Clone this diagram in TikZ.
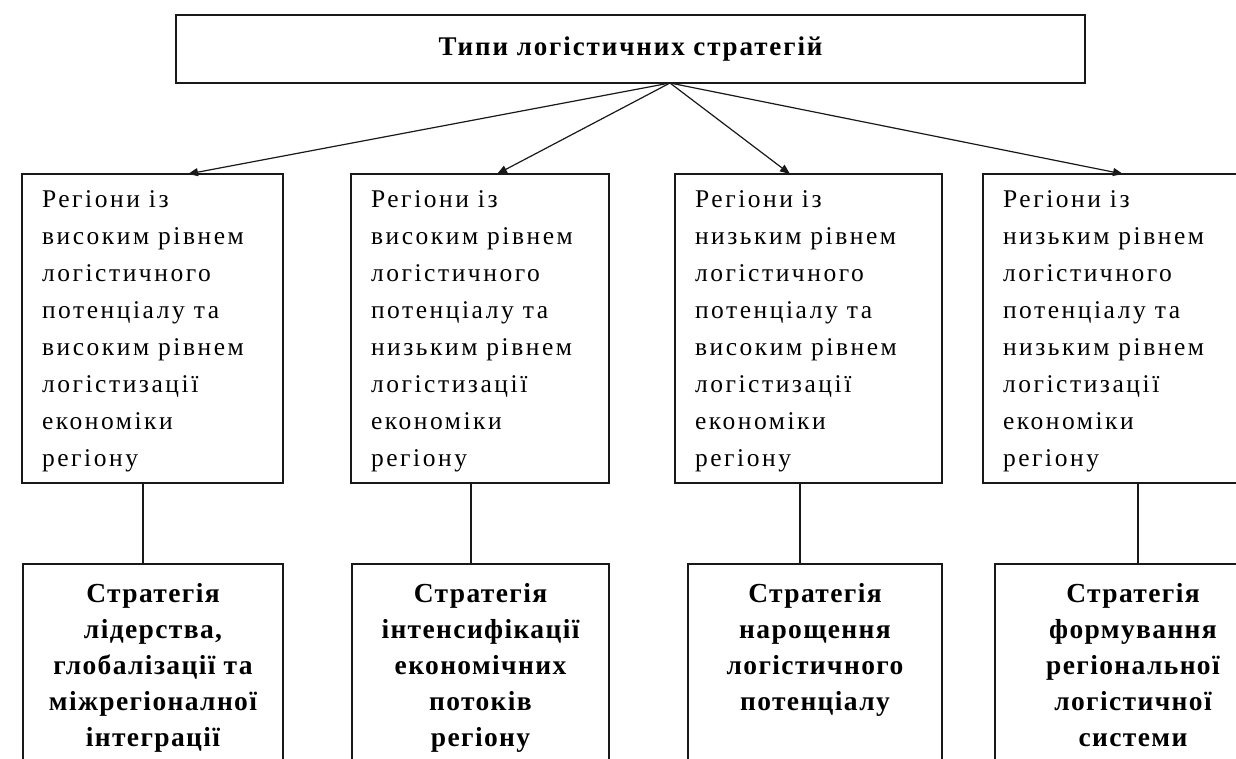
\documentclass[tikz,border=0pt]{standalone}
\usepackage{fontspec}
\setmainfont{Liberation Serif}
\newfontfamily\regfont{Liberation Serif}[LetterSpace=10]
\newfontfamily\stratfont{Liberation Serif}[LetterSpace=5]
\newfontfamily\titlefont{Liberation Serif}[LetterSpace=7]
\usetikzlibrary{arrows.meta}

% text blocks: width, height, lines
\newcommand\regtext[3]{\parbox[t][#2][t]{#1}{\regfont\fontsize{25.5}{37}\selectfont\raggedright\rule{0pt}{26pt}#3}}
\newcommand\strattext[3]{\parbox[t][#2][t]{#1}{\stratfont\bfseries\fontsize{27.5}{36}\selectfont\centering\rule{0pt}{26pt}#3}}

\tikzset{
  frame/.style={draw=black!90, line width=1.4pt, outer sep=0pt},
  titlebox/.style={frame, anchor=north west, inner sep=0pt,
    font=\titlefont\bfseries\fontsize{27}{30}\selectfont},
  regbox/.style={frame, anchor=north west, inner xsep=20pt, inner ysep=7pt},
  stratbox/.style={frame, anchor=north west, inner xsep=10pt, inner ysep=12pt},
  arrow/.style={draw=black!90, line width=1.2pt, -{Triangle[length=10pt,width=8pt]}},
  link/.style={draw=black!90, line width=1.2pt}
}

\begin{document}
\begin{tikzpicture}[x=1pt, y=-1pt]
  \useasboundingbox (0,0) rectangle (1236,758);
  \clip (0,0) rectangle (1236,758);
  \fill[white] (0,0) rectangle (1236,758);

  % heading
  \node[titlebox, minimum width=909pt, minimum height=68pt] (top) at (176,15)
    {\raisebox{-2pt}{Типи логістичних стратегій}};

  % region groups
  \node[regbox] (m1) at (22,174) {\regtext{221pt}{295pt}{Регіони із\\ високим рівнем\\ логістичного\\ потенціалу та\\ високим рівнем\\ логістизації\\ економіки\\ регіону}};
  \node[regbox] (m2) at (351,174) {\regtext{218pt}{295pt}{Регіони із\\ високим рівнем\\ логістичного\\ потенціалу та\\ низьким рівнем\\ логістизації\\ економіки\\ регіону}};
  \node[regbox] (m3) at (675,174) {\regtext{227pt}{295pt}{Регіони із\\ низьким рівнем\\ логістичного\\ потенціалу та\\ високим рівнем\\ логістизації\\ економіки\\ регіону}};
  \node[regbox] (m4) at (983,174) {\regtext{267pt}{295pt}{Регіони із\\ низьким рівнем\\ логістичного\\ потенціалу та\\ низьким рівнем\\ логістизації\\ економіки\\ регіону}};

  % strategies
  \node[stratbox] (b1) at (23,564) {\strattext{240pt}{220pt}{Стратегія\\ лідерства,\\ глобалізації та\\ міжрегіоналної\\ інтеграції}};
  \node[stratbox] (b2) at (352,564) {\strattext{237pt}{220pt}{Стратегія\\ інтенсифікації\\ економічних\\ потоків\\ регіону}};
  \node[stratbox] (b3) at (688,564) {\strattext{234pt}{220pt}{Стратегія\\ нарощення\\ логістичного\\ потенціалу}};
  \node[stratbox] (b4) at (995,564) {\strattext{256pt}{220pt}{Стратегія\\ формування\\ регіональної\\ логістичної\\ системи}};

  % arrows from the heading
  \draw[arrow] ([xshift=39.5pt]top.south) -- ([xshift=35.5pt]m1.north);
  \draw[arrow] ([xshift=39.5pt]top.south) -- ([xshift=17pt]m2.north);
  \draw[arrow] ([xshift=39.5pt]top.south) -- ([xshift=-18.5pt]m3.north);
  \draw[arrow] ([xshift=39.5pt]top.south) -- ([xshift=-13.5pt]m4.north);

  % links to strategies
  \draw[link] ([xshift=-9.5pt]m1.south) -- ([xshift=-9.5pt]m1.south |- b1.north);
  \draw[link] ([xshift=-9pt]m2.south) -- ([xshift=-9pt]m2.south |- b2.north);
  \draw[link] ([xshift=-8.5pt]m3.south) -- ([xshift=-8.5pt]m3.south |- b3.north);
  \draw[link] ([xshift=1.5pt]m4.south) -- ([xshift=1.5pt]m4.south |- b4.north);
\end{tikzpicture}
\end{document}
